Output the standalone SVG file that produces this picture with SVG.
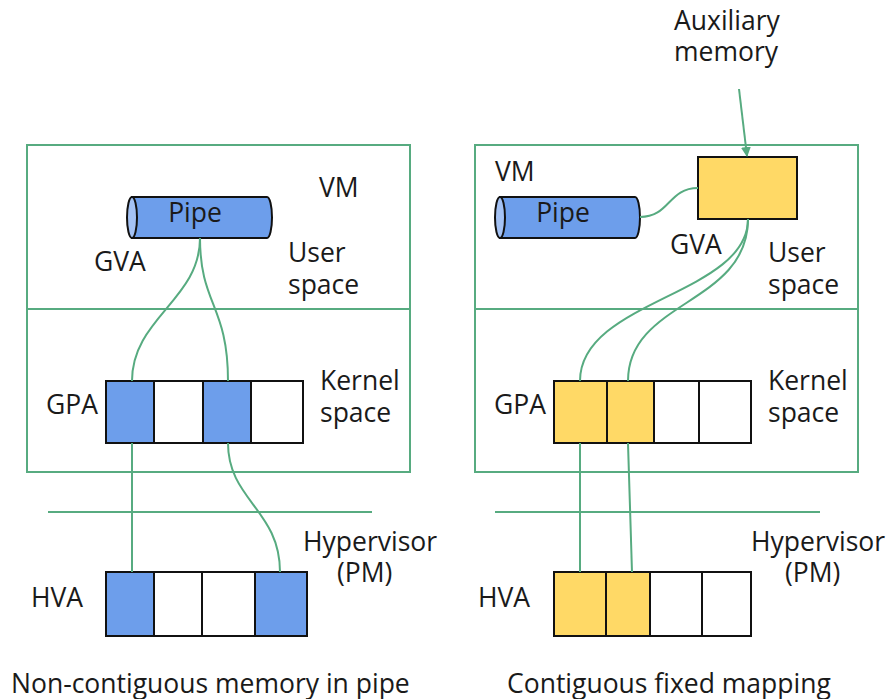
<svg xmlns="http://www.w3.org/2000/svg" width="890" height="699" viewBox="0 0 890 699">
  <style>
    .t { font-family: "Open Sans", "Noto Sans", "DejaVu Sans", sans-serif; font-size: 26.5px; fill: #1a1a1a; }
    .frame { fill: none; stroke: #57ab80; stroke-width: 2; }
    .link { fill: none; stroke: #57ab80; stroke-width: 2; }
    .cell { stroke: #111; stroke-width: 2; }
    .blue { fill: #6d9eeb; }
    .yellow { fill: #ffd966; }
    .empty { fill: #ffffff; }
    .cap { fill: #a4c2f4; stroke: #111; stroke-width: 2; }
  </style>
  <defs>
    <marker id="arrow" viewBox="0 0 10 10" refX="9" refY="5" markerWidth="5" markerHeight="5" orient="auto" markerUnits="strokeWidth">
      <path d="M0,0 L10,5 L0,10 Z" fill="#57ab80"/>
    </marker>
  </defs>
  <rect width="890" height="699" fill="#ffffff"/>

  <!-- ===== Left: non-contiguous ===== -->
  <g id="vm-left">
    <rect class="frame" x="27" y="145" width="383" height="327"/>
    <line class="frame" x1="27" y1="309" x2="410" y2="309"/>
    <text class="t" x="319" y="197">VM</text>
    <text class="t" x="288" y="262">User</text>
    <text class="t" x="288" y="294">space</text>
    <text class="t" x="320" y="390">Kernel</text>
    <text class="t" x="320" y="422">space</text>
    <text class="t" x="94" y="271">GVA</text>
    <text class="t" x="46" y="414">GPA</text>
  </g>
  <g id="pipe-left">
    <path class="cell blue" d="M132,197 H267 A5,20.5 0 0 1 267,238 H132 Z"/>
    <ellipse class="cap" cx="132" cy="217.5" rx="5" ry="20.5"/>
    <text class="t" x="195" y="222" text-anchor="middle">Pipe</text>
  </g>
  <g id="gpa-left">
    <rect class="cell blue" x="106" y="381" width="48" height="62"/>
    <rect class="cell empty" x="154" y="381" width="49" height="62"/>
    <rect class="cell blue" x="203" y="381" width="48" height="62"/>
    <rect class="cell empty" x="251" y="381" width="52" height="62"/>
  </g>
  <g id="hypervisor-left">
    <line class="frame" x1="48" y1="512" x2="372" y2="512"/>
    <text class="t" x="303" y="551">Hypervisor</text>
    <text class="t" x="337" y="582">(PM)</text>
    <text class="t" x="31" y="607">HVA</text>
  </g>
  <g id="hva-left">
    <rect class="cell blue" x="106" y="572" width="48" height="64"/>
    <rect class="cell empty" x="154" y="572" width="48" height="64"/>
    <rect class="cell empty" x="202" y="572" width="53" height="64"/>
    <rect class="cell blue" x="255" y="572" width="52" height="64"/>
  </g>
  <text class="t" x="11" y="693">Non-contiguous memory in pipe</text>

  <!-- ===== Right: contiguous fixed mapping ===== -->
  <g id="vm-right">
    <rect class="frame" x="475" y="145" width="383" height="327"/>
    <line class="frame" x1="475" y1="309" x2="858" y2="309"/>
    <text class="t" x="495" y="181">VM</text>
    <text class="t" x="768" y="262">User</text>
    <text class="t" x="768" y="294">space</text>
    <text class="t" x="768" y="390">Kernel</text>
    <text class="t" x="768" y="422">space</text>
    <text class="t" x="670" y="254">GVA</text>
    <text class="t" x="494" y="414">GPA</text>
  </g>
  <g id="pipe-right">
    <path class="cell blue" d="M500,197 H635 A5,20.5 0 0 1 635,238 H500 Z"/>
    <ellipse class="cap" cx="500" cy="217.5" rx="5" ry="20.5"/>
    <text class="t" x="563" y="222" text-anchor="middle">Pipe</text>
  </g>
  <g id="aux-memory">
    <rect class="cell yellow" x="698" y="157" width="99" height="62"/>
    <text class="t" x="674" y="30">Auxiliary</text>
    <text class="t" x="674" y="61">memory</text>
  </g>
  <g id="gpa-right">
    <rect class="cell yellow" x="554" y="381" width="53" height="62"/>
    <rect class="cell yellow" x="607" y="381" width="47" height="62"/>
    <rect class="cell empty" x="654" y="381" width="45" height="62"/>
    <rect class="cell empty" x="699" y="381" width="52" height="62"/>
  </g>
  <g id="hypervisor-right">
    <line class="frame" x1="495" y1="512" x2="820" y2="512"/>
    <text class="t" x="751" y="551">Hypervisor</text>
    <text class="t" x="785" y="582">(PM)</text>
    <text class="t" x="478" y="607">HVA</text>
  </g>
  <g id="hva-right">
    <rect class="cell yellow" x="554" y="572" width="52" height="64"/>
    <rect class="cell yellow" x="606" y="572" width="44" height="64"/>
    <rect class="cell empty" x="650" y="572" width="52" height="64"/>
    <rect class="cell empty" x="702" y="572" width="49" height="64"/>
  </g>
  <text class="t" x="507" y="693">Contiguous fixed mapping</text>

  <!-- ===== Connectors ===== -->
  <g id="connectors">
    <path class="link" d="M200,238 C200,300 132,318 132,381"/>
    <path class="link" d="M200,238 C200,305 228,305 228,381"/>
    <path class="link" d="M132,443 L132,572"/>
    <path class="link" d="M228,443 C228,500 280,510 280,572"/>

    <path class="link" d="M739,89 L747,156" marker-end="url(#arrow)"/>
    <path class="link" d="M640,217 C670,217 668,188 698,188"/>
    <path class="link" d="M748,219 C748,295 580,300 580,381"/>
    <path class="link" d="M748,219 C748,305 628,300 628,381"/>
    <path class="link" d="M580,443 L580,572"/>
    <path class="link" d="M628,443 L632,572"/>
  </g>
</svg>
